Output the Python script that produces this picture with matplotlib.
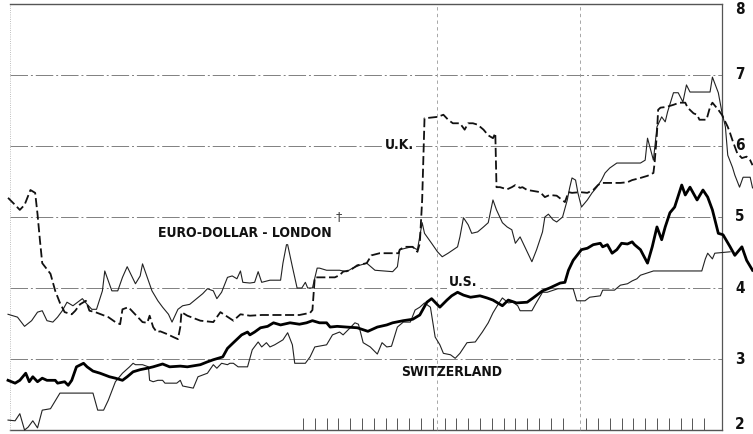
import numpy as np
import matplotlib
matplotlib.use('Agg')
import matplotlib.pyplot as plt

# (week, rate %)
US = [(0,2.70),(0.6,2.66),(1.0,2.70),(1.5,2.80),(1.8,2.68),(2.1,2.75),(2.5,2.68),(2.9,2.73),(3.3,2.70),(4.0,2.70),
      (4.2,2.66),(4.8,2.68),(5.1,2.63),(5.4,2.70),(5.8,2.89),(6.4,2.94),(6.7,2.89),(7.2,2.83),(7.8,2.80),(8.6,2.75),
      (9.1,2.73),(9.7,2.70),(10.1,2.75),(10.6,2.82),(11.2,2.85),(11.8,2.87),(12.3,2.89),(13.1,2.93),(13.7,2.89),
      (14.6,2.90),(15.2,2.89),(16.3,2.92),(16.9,2.96),(17.4,2.99),(18.2,3.03),(18.6,3.15),(19.1,3.23),(19.8,3.34),
      (20.3,3.38),(20.5,3.34),(20.9,3.38),(21.4,3.44),(22.0,3.46),(22.5,3.51),(23.1,3.48),(23.9,3.51),(24.7,3.49),
      (25.3,3.51),(25.8,3.54),(26.4,3.51),(27.0,3.51),(27.3,3.45),(27.9,3.46),(28.7,3.45),(29.6,3.44),(30.5,3.39),
      (31.3,3.45),(32.1,3.48),(32.6,3.51),(33.5,3.54),(34.3,3.56),(34.9,3.62),(35.5,3.80),(35.9,3.85),(36.6,3.73),
      (37.2,3.83),(37.6,3.89),(38.1,3.94),(38.6,3.90),(39.2,3.87),(40.0,3.89),(40.6,3.86),(41.1,3.83),(41.5,3.79),
      (41.9,3.75),(42.4,3.83),(43.1,3.79),(44.0,3.80),(44.5,3.86),(45.3,3.96),(45.9,4.00),(46.8,4.07),(47.2,4.08),
      (47.5,4.25),(47.9,4.39),(48.6,4.54),(49.1,4.56),(49.6,4.61),(50.2,4.63),(50.4,4.58),(50.8,4.61),(51.2,4.49),
      (51.6,4.54),(52.0,4.63),(52.5,4.62),(52.9,4.65),(53.1,4.61),(53.6,4.54),(54.2,4.35),(54.6,4.58),(55.0,4.86),
      (55.4,4.68),(55.7,4.86),(56.1,5.06),(56.5,5.14),(57.1,5.45),(57.4,5.31),(57.8,5.42),(58.4,5.24),(58.9,5.38),
      (59.3,5.28),(59.7,5.10),(60.2,4.77),(60.6,4.75),(61.2,4.58),(61.6,4.46),(62.2,4.58),(62.6,4.39),(63.1,4.25)]

SWISS = [(0,2.14),(0.6,2.13),(1.0,2.23),(1.4,2.00),(1.7,2.04),(2.1,2.13),(2.5,2.03),(2.9,2.28),(3.6,2.30),(4.4,2.52),
         (5.0,2.52),(7.2,2.52),(7.6,2.28),(8.1,2.28),(8.5,2.42),(9.1,2.68),(9.7,2.80),(10.3,2.89),(10.6,2.94),
         (10.8,2.92),(11.4,2.92),(11.9,2.89),(12.0,2.70),(12.3,2.68),(12.7,2.70),(13.1,2.70),(13.3,2.66),(14.3,2.66),
         (14.6,2.70),(14.8,2.62),(15.7,2.59),(16.1,2.75),(16.9,2.80),(17.4,2.92),(17.7,2.87),(18.1,2.94),(18.6,2.92),
         (18.8,2.94),(19.1,2.94),(19.5,2.89),(20.3,2.89),(20.7,3.13),(21.2,3.24),(21.5,3.17),(21.9,3.23),(22.2,3.17),
         (22.6,3.20),(23.3,3.27),(23.7,3.37),(24.1,3.20),(24.3,2.94),(25.2,2.94),(25.6,3.03),(26.0,3.17),(27.0,3.20),
         (27.5,3.34),(28.1,3.38),(28.4,3.34),(29.0,3.44),(29.4,3.51),(29.7,3.49),(30.1,3.23),(30.7,3.17),(31.3,3.07),
         (31.7,3.23),(32.1,3.17),(32.5,3.18),(33.0,3.45),(33.5,3.52),(34.1,3.52),(34.5,3.69),(34.9,3.73),(35.3,3.79),
         (35.8,3.73),(36.2,3.31),(36.6,3.20),(36.9,3.08),(37.5,3.06),(37.9,3.01),(38.3,3.08),(38.9,3.23),(39.6,3.24),
         (40.2,3.38),(40.7,3.51),(41.1,3.65),(41.5,3.76),(41.9,3.86),(42.4,3.79),(42.8,3.80),(43.2,3.75),(43.4,3.68),
         (44.4,3.68),(44.7,3.77),(45.3,3.94),(45.7,3.94),(46.6,3.99),(47.9,3.99),(48.2,3.82),(48.9,3.82),(49.3,3.87),
         (50.2,3.89),(50.4,3.97),(51.4,3.97),(51.9,4.04),(52.5,4.06),(52.9,4.10),(53.3,4.13),(53.6,4.18),(54.7,4.24),
         (58.8,4.24),(59.1,4.41),(59.3,4.49),(59.7,4.41),(59.9,4.49),(61.2,4.51)]

UK = [(0,5.27),(0.6,5.17),(1.0,5.10),(1.4,5.17),(1.9,5.38),(2.3,5.34),(2.5,5.04),(2.7,4.68),(2.9,4.35),(3.6,4.20),
      (4.0,3.96),(4.4,3.79),(4.8,3.66),(5.4,3.63),(5.7,3.68),(6.1,3.77),(6.6,3.82),(6.9,3.68),(7.4,3.66),(8.5,3.59),
      (9.1,3.52),(9.5,3.49),(9.7,3.70),(10.2,3.73),(10.6,3.66),(11.0,3.59),(11.4,3.52),(11.8,3.51),(12.0,3.61),
      (12.3,3.45),(12.6,3.38),(12.9,3.39),(13.5,3.35),(14.0,3.31),(14.4,3.28),(14.6,3.45),(14.7,3.66),(15.2,3.61),
      (16.3,3.54),(17.4,3.52),(18.0,3.66),(19.1,3.54),(19.7,3.63),(20.5,3.61),(21.5,3.62),(24.7,3.62),(25.6,3.65),
      (25.8,3.69),(26.0,4.15),(27.0,4.15),(27.7,4.15),(28.1,4.18),(28.4,4.23),(29.0,4.25),(29.6,4.32),(30.4,4.35),
      (30.8,4.46),(31.5,4.49),(33.1,4.49),(33.2,4.54),(33.6,4.58),(34.3,4.58),(34.7,4.51),(34.9,4.63),(35.1,5.24),
      (35.3,6.39),(36.4,6.41),(36.9,6.44),(37.3,6.37),(37.7,6.32),(38.3,6.32),(38.7,6.23),(39.0,6.32),(39.4,6.32),
      (39.8,6.30),(40.3,6.23),(40.7,6.15),(41.1,6.11),(41.3,6.18),(41.4,5.42),(41.7,5.42),(42.3,5.39),(42.7,5.42),
      (43.0,5.45),(43.4,5.41),(43.6,5.42),(44.0,5.38),(44.4,5.37),(45.1,5.35),(45.5,5.28),(45.9,5.31),(46.5,5.30),
      (47.2,5.21),(47.5,5.35),(47.8,5.34),(48.5,5.35),(49.1,5.34),(49.6,5.38),(50.0,5.45),(50.3,5.48),(51.9,5.48),
      (52.5,5.49),(52.9,5.52),(53.6,5.55),(54.2,5.58),(54.7,5.62),(54.8,5.76),(55.0,6.18),(55.1,6.51),(55.3,6.54),
      (55.8,6.55),(56.4,6.58),(56.9,6.61),(57.4,6.61),(57.6,6.54),(58.1,6.46),(58.4,6.44),(58.6,6.37),(59.2,6.37),
      (59.5,6.55),(59.7,6.61),(60.2,6.51),(60.5,6.44),(61.0,6.27),(61.2,6.18),(61.4,6.08),(61.8,5.90),(62.2,5.83),
      (62.6,5.85),(62.9,5.80),(63.1,5.73)]

EURO = [(0,3.63),(0.8,3.59),(1.4,3.46),(2.0,3.54),(2.5,3.66),(2.9,3.68),(3.3,3.54),(3.8,3.52),(4.2,3.59),(4.6,3.68),
        (5.0,3.80),(5.5,3.75),(6.3,3.85),(6.7,3.77),(7.1,3.70),(7.5,3.70),(8.0,3.96),(8.2,4.24),(8.5,4.10),(8.8,3.96),
        (9.3,3.96),(9.7,4.15),(10.1,4.30),(10.8,4.06),(11.2,4.17),(11.4,4.34),(12.2,3.96),(12.7,3.82),(13.1,3.73),
        (13.6,3.63),(13.9,3.52),(14.2,3.63),(14.4,3.70),(14.8,3.75),(15.4,3.77),(16.5,3.92),(16.9,3.99),(17.4,3.96),
        (17.7,3.85),(18.1,3.94),(18.6,4.15),(19.0,4.17),(19.4,4.13),(19.7,4.24),(19.9,4.08),(20.5,4.07),(20.9,4.08),
        (21.2,4.23),(21.5,4.08),(22.2,4.11),(23.1,4.11),(23.3,4.35),(23.6,4.61),(23.7,4.61),(24.1,4.30),(24.5,4.00),
        (24.9,4.00),(25.2,4.08),(25.4,4.00),(25.8,4.00),(26.2,4.28),(26.4,4.28),(27.0,4.25),(28.1,4.25),(28.7,4.23),
        (29.2,4.28),(29.8,4.32),(30.4,4.35),(31.1,4.25),(32.6,4.23),(33.0,4.30),(33.2,4.54),(34.2,4.58),(34.7,4.54),
        (35.1,4.92),(35.3,4.77),(35.9,4.63),(36.4,4.51),(36.8,4.44),(37.3,4.49),(38.1,4.58),(38.3,4.72),(38.6,4.99),
        (39.0,4.89),(39.3,4.77),(39.8,4.79),(40.3,4.86),(40.7,4.92),(41.1,5.24),(41.4,5.10),(41.9,4.92),(42.3,4.86),
        (42.7,4.82),(43.0,4.63),(43.4,4.72),(44.0,4.51),(44.4,4.37),(44.8,4.54),(45.3,4.79),(45.5,5.00),(45.8,5.04),
        (46.2,4.96),(46.5,4.93),(47.0,5.00),(47.4,5.24),(47.6,5.41),(47.8,5.55),(48.1,5.52),(48.3,5.34),(48.6,5.14),
        (49.1,5.24),(49.5,5.34),(49.9,5.42),(50.3,5.52),(50.6,5.62),(51.0,5.69),(51.6,5.76),(53.6,5.76),(54.0,5.80),
        (54.2,6.11),(54.7,5.80),(55.0,6.27),(55.4,6.41),(55.7,6.34),(55.9,6.48),(56.4,6.75),(56.8,6.75),(57.2,6.62),
        (57.5,6.86),(57.8,6.76),(59.5,6.76),(59.7,6.97),(60.2,6.75),(60.5,6.48),(60.8,6.27),(61.0,5.87),(61.4,5.70),
        (61.6,5.59),(62.0,5.42),(62.3,5.56),(62.9,5.56),(63.1,5.41)]

levels = [2, 3, 4, 5, 6, 7, 8]
week_ticks = [w for w in range(25, 60) if w != 48]
end_week = 60.5

fig = plt.figure(figsize=(7.53, 4.34), dpi=100)
ax = fig.add_axes([0, 0, 1, 1])
ax.set_xlim(-0.68, 63.14)
ax.set_ylim(1.944, 8.056)
ax.axis('off')

grid = '#808080'
for v in levels[1:-1]:
    ax.plot([0.2, end_week], [v, v], color=grid, lw=0.7, ls=(0, (18, 3, 2, 3)), zorder=1)
ax.plot([0.2, end_week], [8, 8], color='#555555', lw=1.0, zorder=1)
ax.plot([0.2, end_week], [2, 2], color='#555555', lw=1.0, zorder=1)
ax.plot([end_week, end_week], [2, 8], color='#555555', lw=0.9, zorder=1)
ax.plot([0.15, 0.15], [2, 8], color='#aaaaaa', lw=0.6, ls=':', zorder=1)
for t in [36.4, 48.5]:
    ax.plot([t, t], [2, 8], color='#999999', lw=0.6, ls=(0, (4, 4)), zorder=1)
ax.vlines(week_ticks, 2, 2.17, color='#555555', lw=0.7, zorder=1)

lbl = dict(fontweight='bold', fontstretch='condensed', color='#111111')
for v in levels:
    ax.text(0.9825, min(max(v, 2.08), 7.92), str(v), transform=ax.get_yaxis_transform(),
            ha='center', va='center', fontsize=11, **lbl)

ax.plot(*zip(*SWISS), color='#222222', lw=0.8, zorder=3)
ax.plot(*zip(*EURO), color='#222222', lw=0.8, zorder=3)
ax.plot(*zip(*UK), color='#111111', lw=1.3, ls=(0, (5, 2)), zorder=3)
ax.plot(*zip(*US), color='black', lw=2.0, zorder=4)

box = dict(facecolor='white', edgecolor='none', pad=1.5)
ax.text(33.2, 6.01, 'U.K.', ha='center', va='center', fontsize=10, bbox=box, zorder=2, **lbl)
ax.text(20.1, 4.77, 'EURO-DOLLAR - LONDON', ha='center', va='center', fontsize=10, zorder=2, **lbl)
ax.text(38.6, 4.08, 'U.S.', ha='center', va='center', fontsize=10, bbox=box, zorder=2, **lbl)
ax.text(37.6, 2.82, 'SWITZERLAND', ha='center', va='center', fontsize=10, zorder=2, **lbl)
ax.text(28.0, 5.0, '†', ha='center', va='center', fontsize=9, color='#444444', zorder=2)

fig.savefig('out.png', dpi=100, facecolor='white')
